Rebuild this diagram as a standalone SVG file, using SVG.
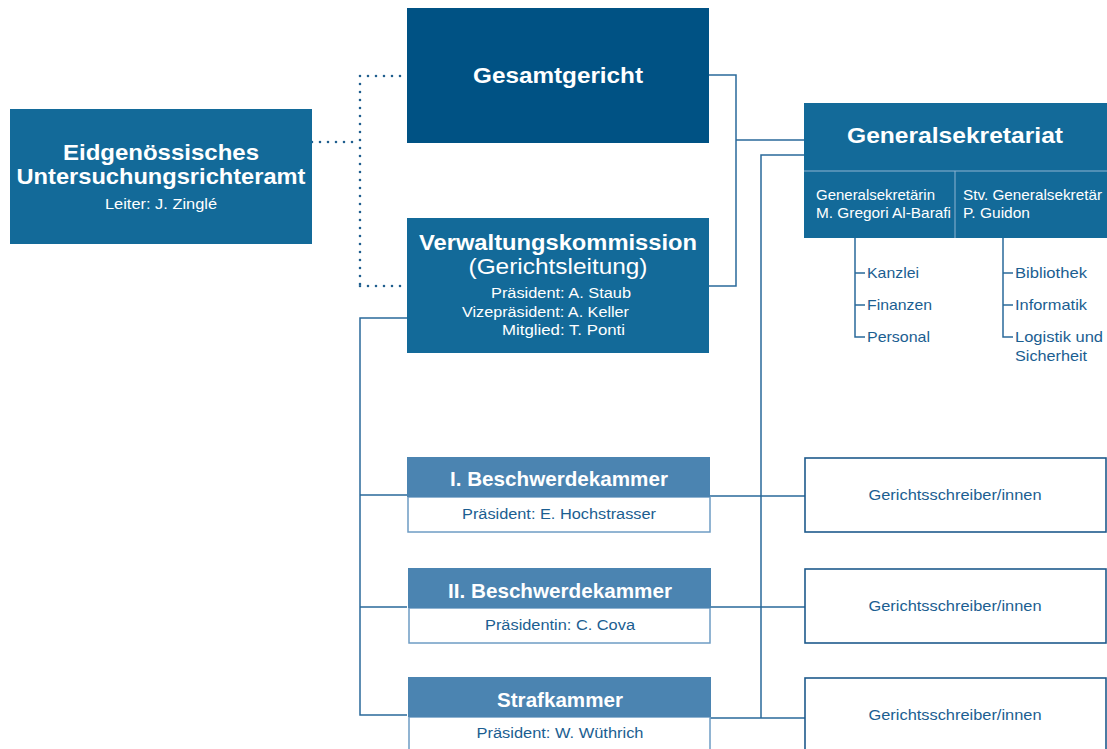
<svg xmlns="http://www.w3.org/2000/svg" width="1107" height="749" viewBox="0 0 1107 749">
<style>
text{font-family:"Liberation Sans",Arial,sans-serif}
.w{fill:#fff}
.b{font-weight:bold}
.d{fill:#1b5e91}
.c{text-anchor:middle}
.ln{fill:none;stroke:#2a6a9b;stroke-width:1.5}
.dot{fill:none;stroke:#1f5e8e;stroke-width:2.6;stroke-linecap:round;stroke-dasharray:0 8}
.hdr{fill:#4b84b1}
.body{fill:#fff;stroke:#6e9cc4;stroke-width:1.5}
.gs{fill:#fff;stroke:#1f5a8c;stroke-width:1.6}
</style>
<rect width="1107" height="749" fill="#fff"/>
<g id="connectors">
<path class="dot" d="M312 142 H360 M360 76 V286 M360 76 H407 M360 286 H407"/>
<path class="ln" d="M709 75 H736 V286 H709 M736 140 H804"/>
<path class="ln" d="M804 155 H761 V718"/>
<path class="ln" d="M407 318 H360 V715 H407 M360 495 H407 M360 607 H407"/>
<path class="ln" d="M710 496 H805 M710 607 H805 M710 718 H805"/>
<path class="ln" d="M855 238 V337 H865 M855 273 H865 M855 305 H865"/>
<path class="ln" d="M1003 238 V337 H1013 M1003 273 H1013 M1003 305 H1013"/>
</g>
<g id="eidg">
<rect x="10" y="109" width="302" height="135" fill="#136a99"/>
<text class="w b c" x="161" y="160" font-size="22" textLength="196" lengthAdjust="spacingAndGlyphs">Eidgenössisches</text>
<text class="w b c" x="161" y="184" font-size="22" textLength="289" lengthAdjust="spacingAndGlyphs">Untersuchungsrichteramt</text>
<text class="w c" x="161" y="209" font-size="15.5" textLength="112" lengthAdjust="spacingAndGlyphs">Leiter: J. Zinglé</text>
</g>
<g id="gesamtgericht">
<rect x="407" y="8" width="302" height="135" fill="#005284"/>
<text class="w b c" x="558" y="83" font-size="22" textLength="170" lengthAdjust="spacingAndGlyphs">Gesamtgericht</text>
</g>
<g id="verwaltung">
<rect x="407" y="218" width="302" height="135" fill="#136a99"/>
<text class="w b c" x="558" y="250" font-size="22" textLength="278" lengthAdjust="spacingAndGlyphs">Verwaltungskommission</text>
<text class="w c" x="558" y="274" font-size="22" textLength="179" lengthAdjust="spacingAndGlyphs">(Gerichtsleitung)</text>
<text class="w" x="491" y="298" font-size="15.5" textLength="140" lengthAdjust="spacingAndGlyphs">Präsident: A. Staub</text>
<text class="w" x="462" y="317" font-size="15.5" textLength="167" lengthAdjust="spacingAndGlyphs">Vizepräsident: A. Keller</text>
<text class="w" x="502" y="335" font-size="15.5" textLength="123" lengthAdjust="spacingAndGlyphs">Mitglied: T. Ponti</text>
</g>
<g id="generalsekretariat">
<rect x="804" y="103" width="303" height="135" fill="#136a99"/>
<path d="M804 171 H1107 M955 171 V238" stroke="#8fb4d2" stroke-width="1" fill="none"/>
<text class="w b c" x="955" y="143" font-size="22" textLength="216" lengthAdjust="spacingAndGlyphs">Generalsekretariat</text>
<text class="w" x="816" y="200" font-size="14.5" textLength="119" lengthAdjust="spacingAndGlyphs">Generalsekretärin</text>
<text class="w" x="816" y="218" font-size="14.5" textLength="135" lengthAdjust="spacingAndGlyphs">M. Gregori Al-Barafi</text>
<text class="w" x="963" y="200" font-size="14.5" textLength="139" lengthAdjust="spacingAndGlyphs">Stv. Generalsekretär</text>
<text class="w" x="963" y="218" font-size="14.5" textLength="67" lengthAdjust="spacingAndGlyphs">P. Guidon</text>
</g>
<g id="gs-units">
<text class="d" x="867" y="278" font-size="15" textLength="52" lengthAdjust="spacingAndGlyphs">Kanzlei</text>
<text class="d" x="867" y="310" font-size="15" textLength="65" lengthAdjust="spacingAndGlyphs">Finanzen</text>
<text class="d" x="867" y="342" font-size="15" textLength="63" lengthAdjust="spacingAndGlyphs">Personal</text>
<text class="d" x="1015" y="278" font-size="15" textLength="72" lengthAdjust="spacingAndGlyphs">Bibliothek</text>
<text class="d" x="1015" y="310" font-size="15" textLength="72" lengthAdjust="spacingAndGlyphs">Informatik</text>
<text class="d" x="1015" y="342" font-size="15" textLength="88" lengthAdjust="spacingAndGlyphs">Logistik und</text>
<text class="d" x="1015" y="361" font-size="15" textLength="72" lengthAdjust="spacingAndGlyphs">Sicherheit</text>
</g>
<g id="kammer1">
<rect class="body" x="408" y="497" width="302" height="35"/>
<rect class="hdr" x="407" y="457" width="303" height="40"/>
<text class="w b c" x="559" y="486" font-size="20.5" textLength="218" lengthAdjust="spacingAndGlyphs">I. Beschwerdekammer</text>
<text class="d c" x="559" y="519" font-size="15.5" textLength="194" lengthAdjust="spacingAndGlyphs">Präsident: E. Hochstrasser</text>
</g>
<g id="kammer2">
<rect class="body" x="409" y="608" width="301" height="35"/>
<rect class="hdr" x="408" y="568" width="303" height="40"/>
<text class="w b c" x="560" y="598" font-size="20.5" textLength="224" lengthAdjust="spacingAndGlyphs">II. Beschwerdekammer</text>
<text class="d c" x="560" y="630" font-size="15.5" textLength="150" lengthAdjust="spacingAndGlyphs">Präsidentin: C. Cova</text>
</g>
<g id="strafkammer">
<rect class="body" x="409" y="717" width="301" height="40"/>
<rect class="hdr" x="408" y="677" width="303" height="40"/>
<text class="w b c" x="560" y="707" font-size="20.5" textLength="126" lengthAdjust="spacingAndGlyphs">Strafkammer</text>
<text class="d c" x="560" y="738" font-size="15.5" textLength="167" lengthAdjust="spacingAndGlyphs">Präsident: W. Wüthrich</text>
</g>
<g id="gs1">
<rect class="gs" x="805" y="458" width="301" height="74"/>
<text class="d c" x="955" y="500" font-size="15" textLength="173" lengthAdjust="spacingAndGlyphs">Gerichtsschreiber/innen</text>
</g>
<g id="gs2">
<rect class="gs" x="805" y="569" width="301" height="74"/>
<text class="d c" x="955" y="611" font-size="15" textLength="173" lengthAdjust="spacingAndGlyphs">Gerichtsschreiber/innen</text>
</g>
<g id="gs3">
<rect class="gs" x="805" y="678" width="301" height="80"/>
<text class="d c" x="955" y="720" font-size="15" textLength="173" lengthAdjust="spacingAndGlyphs">Gerichtsschreiber/innen</text>
</g>
</svg>
